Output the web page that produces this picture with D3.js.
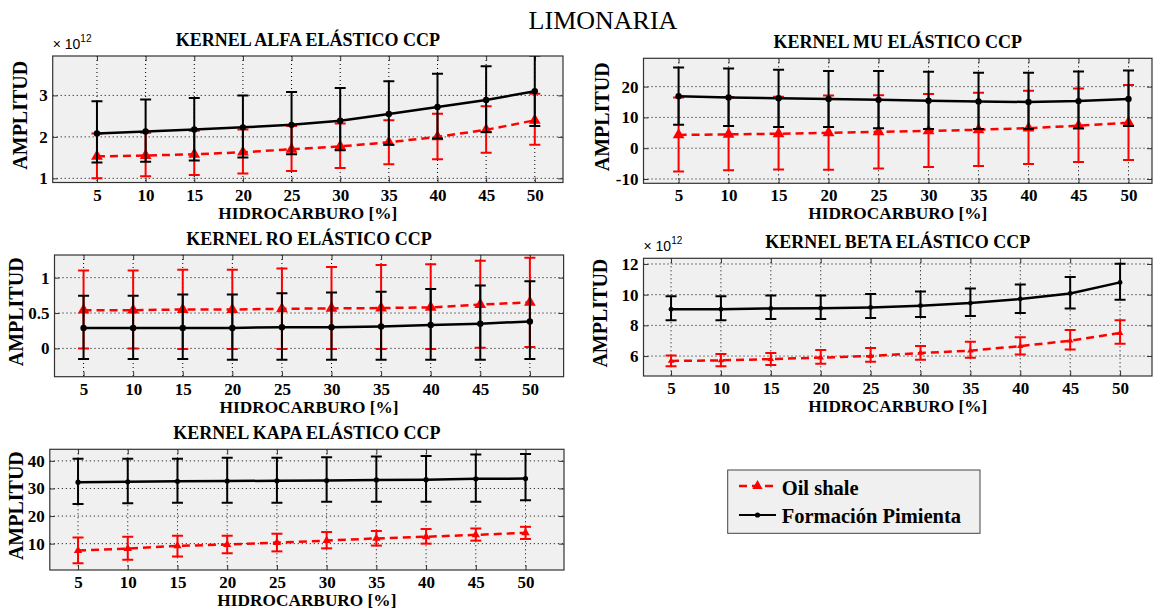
<!DOCTYPE html>
<html><head><meta charset="utf-8">
<script src="https://cdn.jsdelivr.net/npm/d3@7"></script>
<style>
html,body{margin:0;padding:0;background:#fff;}
svg{display:block;}
text{font-family:"Liberation Serif","Times New Roman",serif;}
</style></head>
<body><svg id="c" width="1158" height="613"></svg>
<script>
// ---------- data ----------
const hidrocarburo = [5,10,15,20,25,30,35,40,45,50];
const xTicks = [5,10,15,20,25,30,35,40,45,50];

// ALFA (x 10^12)
const alfaOilMean = [1.53,1.55,1.58,1.63,1.70,1.77,1.87,2.00,2.17,2.40];
const alfaOilLow  = [1.00,1.05,1.08,1.12,1.18,1.25,1.34,1.46,1.62,1.81];
const alfaOilHigh = [2.08,2.10,2.15,2.18,2.26,2.32,2.40,2.56,2.74,3.04];
const alfaPimMean = [2.08,2.13,2.18,2.23,2.29,2.39,2.55,2.72,2.89,3.10];
const alfaPimLow  = [1.38,1.40,1.43,1.50,1.58,1.68,1.81,1.96,2.12,2.26];
const alfaPimHigh = [2.86,2.90,2.94,3.00,3.08,3.18,3.34,3.52,3.70,3.96];
const alfaTicks = [1,2,3];

// MU
const muOilMean = [4.3,4.5,4.7,5.0,5.3,5.6,6.0,6.5,7.3,8.3];
const muOilLow  = [-7.6,-7.2,-6.9,-7.0,-6.6,-6.1,-5.8,-5.1,-4.5,-3.8];
const muOilHigh = [16.5,16.6,16.7,17.1,17.2,17.6,18.0,18.7,19.4,20.5];
const muPimMean = [16.9,16.5,16.2,16.0,15.7,15.4,15.2,15.0,15.3,16.0];
const muPimLow  = [7.6,7.2,6.9,6.9,6.5,6.2,6.2,6.2,6.4,7.2];
const muPimHigh = [26.2,25.9,25.5,25.1,25.1,24.8,24.5,24.5,24.9,25.2];
const muTicks = [-10,0,10,20];

// RO
const roOilMean = [0.54,0.54,0.55,0.55,0.56,0.565,0.57,0.58,0.62,0.65];
const roOilLow  = [0.0,0.0,-0.01,-0.01,-0.01,-0.01,-0.01,-0.01,0.01,0.02];
const roOilHigh = [1.10,1.10,1.11,1.11,1.13,1.15,1.18,1.19,1.24,1.28];
const roPimMean = [0.29,0.29,0.29,0.29,0.30,0.30,0.31,0.33,0.35,0.38];
const roPimLow  = [-0.15,-0.15,-0.15,-0.16,-0.16,-0.16,-0.16,-0.16,-0.16,-0.15];
const roPimHigh = [0.745,0.745,0.76,0.76,0.78,0.79,0.80,0.84,0.89,0.95];
const roTicks = [0,0.5,1];

// BETA (x 10^12)
const betaOilMean = [5.68,5.72,5.80,5.90,6.00,6.20,6.35,6.65,7.00,7.50];
const betaOilLow  = [5.33,5.33,5.41,5.50,5.63,5.76,5.89,6.10,6.43,6.80];
const betaOilHigh = [6.04,6.13,6.20,6.40,6.52,6.65,6.93,7.22,7.70,8.33];
const betaPimMean = [9.05,9.05,9.10,9.12,9.17,9.28,9.45,9.72,10.08,10.80];
const betaPimLow  = [8.33,8.33,8.41,8.41,8.48,8.55,8.61,8.80,9.10,9.67];
const betaPimHigh = [9.90,9.90,9.95,9.95,10.04,10.20,10.40,10.67,11.15,12.02];
const betaTicks = [6,8,10,12];

// KAPA
const kapaOilMean = [7.5,8.2,9.2,9.7,10.4,11.1,11.9,12.5,13.2,13.9];
const kapaOilLow  = [2.9,4.2,5.3,6.5,7.2,8.3,9.3,10.0,11.1,11.7];
const kapaOilHigh = [12.2,12.5,12.9,12.9,13.6,14.2,14.6,15.3,15.5,16.1];
const kapaPimMean = [32.3,32.4,32.6,32.7,32.8,32.9,33.1,33.2,33.5,33.6];
const kapaPimLow  = [24.4,24.6,24.8,24.8,24.8,25.2,25.2,25.2,25.2,25.7];
const kapaPimHigh = [40.8,40.8,40.8,41.1,41.1,41.3,41.6,41.8,42.3,42.5];
const kapaTicks = [10,20,30,40];

const seriesNames = ["Oil shale","Formación Pimienta"];
const mainTitle = "LIMONARIA";
const xLabel = "HIDROCARBURO [%]";
const yLabel = "AMPLITUD";

// ---------- layout ----------
const panels = [
  {title:"KERNEL ALFA ELÁSTICO CCP", box:[52.7,56,563,182.5], xDom:[0.45,52.9], yDom:[0.9,3.95],
   ticks:alfaTicks, exp:true, ylabX:21,
   oil:[alfaOilMean,alfaOilLow,alfaOilHigh], pim:[alfaPimMean,alfaPimLow,alfaPimHigh], tri:60, dot:3.2},
  {title:"KERNEL MU ELÁSTICO CCP", box:[643.5,58.3,1152,183.3], xDom:[1.49,52.35], yDom:[-11.4,29.2],
   ticks:muTicks, exp:false, ylabX:603,
   oil:[muOilMean,muOilLow,muOilHigh], pim:[muPimMean,muPimLow,muPimHigh], tri:60, dot:3.2},
  {title:"KERNEL RO ELÁSTICO CCP", box:[54.5,255,563.6,376.7], xDom:[2.07,53.4], yDom:[-0.4,1.32],
   ticks:roTicks, exp:false, ylabX:16.5,
   oil:[roOilMean,roOilLow,roOilHigh], pim:[roPimMean,roPimLow,roPimHigh], tri:60, dot:3.2},
  {title:"KERNEL BETA ELÁSTICO CCP", box:[643.5,258.3,1152,376], xDom:[2.24,53.2], yDom:[4.7,12.37],
   ticks:betaTicks, exp:true, ylabX:601,
   oil:[betaOilMean,betaOilLow,betaOilHigh], pim:[betaPimMean,betaPimLow,betaPimHigh], tri:18, dot:2.4},
  {title:"KERNEL KAPA ELÁSTICO CCP", box:[49.8,449.3,564,570], xDom:[2.16,53.87], yDom:[0.45,44.2],
   ticks:kapaTicks, exp:false, ylabX:17,
   oil:[kapaOilMean,kapaOilLow,kapaOilHigh], pim:[kapaPimMean,kapaPimLow,kapaPimHigh], tri:30, dot:2.6}
];

const RED = "#ff0000", BLACK = "#000000";
const SERIF = "'Liberation Serif','Times New Roman',serif";
const svg = d3.select("#c");

svg.append("text").attr("x",603).attr("y",29).attr("text-anchor","middle")
  .style("font-size","26px").text(mainTitle);

panels.forEach((p,i)=>{
  const [L,T,R,B] = p.box;
  const x = d3.scaleLinear().domain(p.xDom).range([L,R]);
  const y = d3.scaleLinear().domain(p.yDom).range([B,T]);
  const g = svg.append("g");
  const cid = "clip"+i;
  svg.append("clipPath").attr("id",cid).append("rect")
    .attr("x",L).attr("y",T).attr("width",R-L).attr("height",B-T);

  g.append("rect").attr("x",L).attr("y",T).attr("width",R-L).attr("height",B-T).attr("fill","#f0f0f0");

  // grid
  const grid = g.append("g").attr("stroke","#000").attr("stroke-width",1).attr("stroke-dasharray","1,3");
  xTicks.forEach(v=>grid.append("line").attr("x1",x(v)).attr("x2",x(v)).attr("y1",T).attr("y2",B));
  p.ticks.forEach(v=>grid.append("line").attr("x1",L).attr("x2",R).attr("y1",y(v)).attr("y2",y(v)));

  // axes
  const axB = g.append("g").attr("transform",`translate(0,${B})`)
    .call(d3.axisBottom(x).tickValues(xTicks).tickSize(-5).tickPadding(6).tickFormat(d3.format("d")));
  const axT = g.append("g").attr("transform",`translate(0,${T})`)
    .call(d3.axisTop(x).tickValues(xTicks).tickSize(-5).tickFormat(""));
  const axL = g.append("g").attr("transform",`translate(${L},0)`)
    .call(d3.axisLeft(y).tickValues(p.ticks).tickSize(-5).tickPadding(5).tickFormat(d=>String(d)));
  const axR = g.append("g").attr("transform",`translate(${R},0)`)
    .call(d3.axisRight(y).tickValues(p.ticks).tickSize(-5).tickFormat(""));
  [axB,axT,axL,axR].forEach(a=>{
    a.attr("font-family",SERIF).attr("font-size",17);
    a.select(".domain").remove();
    a.selectAll(".tick line").attr("stroke","#333").attr("stroke-width",1);
    a.selectAll("text").attr("fill","#000").style("font-family",SERIF)
      .style("font-weight","bold").style("font-size","17px");
  });
  axB.selectAll("text").attr("dy","0.71em");
  g.append("rect").attr("x",L).attr("y",T).attr("width",R-L).attr("height",B-T)
    .attr("fill","none").attr("stroke","#333").attr("stroke-width",1.2);

  // data
  const dg = g.append("g").attr("clip-path",`url(#${cid})`);
  const drawSeries = (arr,color,dashed,marker)=>{
    const [mean,low,high] = arr;
    const line = d3.line().x((d,j)=>x(hidrocarburo[j])).y(d=>y(d));
    dg.append("path").datum(mean).attr("d",line).attr("fill","none").attr("stroke",color)
      .attr("stroke-width",2.5).attr("stroke-dasharray",dashed?"8,5":null);
    const eb = dg.append("g").attr("stroke",color).attr("stroke-width",2);
    hidrocarburo.forEach((h,j)=>{
      const cx = x(h);
      eb.append("line").attr("x1",cx).attr("x2",cx).attr("y1",y(low[j])).attr("y2",y(high[j]));
      eb.append("line").attr("x1",cx-5.5).attr("x2",cx+5.5).attr("y1",y(low[j])).attr("y2",y(low[j]));
      eb.append("line").attr("x1",cx-5.5).attr("x2",cx+5.5).attr("y1",y(high[j])).attr("y2",y(high[j]));
    });
    hidrocarburo.forEach((h,j)=>{
      if(marker==="tri"){
        dg.append("path").attr("d",d3.symbol(d3.symbolTriangle,p.tri)())
          .attr("transform",`translate(${x(h)},${y(mean[j])})`).attr("fill",color);
      } else {
        dg.append("circle").attr("cx",x(h)).attr("cy",y(mean[j])).attr("r",p.dot).attr("fill",color);
      }
    });
  };
  drawSeries(p.oil,RED,true,"tri");
  drawSeries(p.pim,BLACK,false,"dot");

  // labels
  svg.append("text").attr("x",(L+R)/2).attr("y",T-10).attr("text-anchor","middle")
    .style("font-weight","bold").style("font-size","18px").text(p.title);
  svg.append("text").attr("x",(L+R)/2).attr("y",B+36).attr("text-anchor","middle")
    .style("font-weight","bold").style("font-size","17.3px").text(xLabel);
  svg.append("text").attr("transform",`translate(${p.ylabX+6},${(T+B)/2-4}) rotate(-90)`)
    .attr("text-anchor","middle").style("font-weight","bold").style("font-size","20px").text(yLabel);
  if(p.exp){
    const e = svg.append("text").attr("x",L).attr("y",T-7)
      .style("font-family","'Liberation Sans',Arial,sans-serif").style("font-size","14px");
    e.append("tspan").text("× 10");
    e.append("tspan").attr("dy",-7).style("font-size","10px").text("12");
  }
});

// legend
const lg = svg.append("g");
lg.append("rect").attr("x",727.7).attr("y",470).attr("width",252.3).attr("height",63.3)
  .attr("fill","#f0f0f0").attr("stroke","#444").attr("stroke-width",1);
lg.append("line").attr("x1",739).attr("x2",776).attr("y1",486).attr("y2",486)
  .attr("stroke",RED).attr("stroke-width",2.5).attr("stroke-dasharray","8,5");
lg.append("path").attr("d",d3.symbol(d3.symbolTriangle,45)()).attr("transform","translate(757.5,486)").attr("fill",RED);
lg.append("line").attr("x1",739).attr("x2",776).attr("y1",515).attr("y2",515)
  .attr("stroke",BLACK).attr("stroke-width",2);
lg.append("circle").attr("cx",757.5).attr("cy",515).attr("r",2.6).attr("fill",BLACK);
lg.append("text").attr("x",781.7).attr("y",495).style("font-weight","bold").style("font-size","20.5px").text(seriesNames[0]);
lg.append("text").attr("x",781.7).attr("y",523.3).style("font-weight","bold").style("font-size","20.5px").text(seriesNames[1]);
</script></body></html>
